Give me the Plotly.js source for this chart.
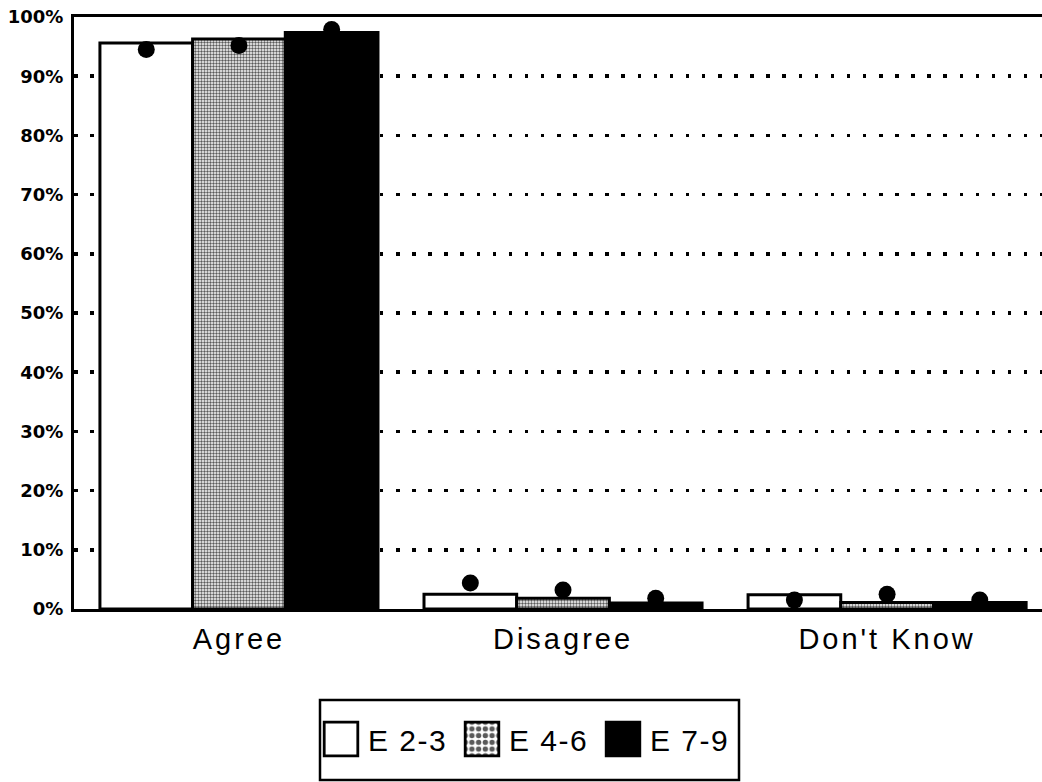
<!DOCTYPE html>
<html>
<head>
<meta charset="utf-8">
<script src="https://cdn.plot.ly/plotly-3.0.1.min.js"></script>
<style>
body{margin:0;background:#fff}
#chart{width:1042px;height:782px}
.xtick text{letter-spacing:3px}
.legend .legendtext{letter-spacing:1.5px}
</style>
</head>
<body>
<div id="chart"></div>
<script>
var categories = ["Agree", "Disagree", "Don't Know"];
var seriesNames = ["E 2-3", "E 4-6", "E 7-9"];
var barE23 = [95.6, 2.5, 2.4];
var barE46 = [96.3, 1.8, 1.1];
var barE79 = [97.4, 1.0, 1.1];
var dotE23 = [94.5, 4.4, 1.5];
var dotE46 = [95.2, 3.2, 2.5];
var dotE79 = [97.9, 1.8, 1.5];
var yTickVals = [0, 10, 20, 30, 40, 50, 60, 70, 80, 90, 100];
var yTickText = ["0%", "10%", "20%", "30%", "40%", "50%", "60%", "70%", "80%", "90%", "100%"];

var barVals = [barE23, barE46, barE79];
var dotVals = [dotE23, dotE46, dotE79];
var fills = [
  {color: "#ffffff"},
  {color: "#ffffff", pattern: {shape: ".", fgcolor: "#5a5a5a", bgcolor: "#ffffff", size: 3, solidity: 0.5}},
  {color: "#000000"}
];

var traces = [];
for (var i = 0; i < 3; i++) {
  traces.push({
    type: "bar", name: seriesNames[i], x: categories, y: barVals[i],
    offsetgroup: "g" + i,
    marker: Object.assign({line: {color: "#000", width: 3}}, fills[i]),
    hoverinfo: "skip"
  });
}
for (var j = 0; j < 3; j++) {
  traces.push({
    type: "scatter", mode: "markers", x: categories, y: dotVals[j],
    offsetgroup: "g" + j, showlegend: false,
    marker: {color: "#000", size: 17, symbol: "circle"},
    hoverinfo: "skip"
  });
}

var plotL = 74, plotT = 17, plotB = 609, figW = 1042;
var plotW = figW - plotL, plotH = plotB - plotT;
function px2x(p) { return (p - plotL) / plotW; }
function py2y(p) { return (plotB - p) / plotH; }

var layout = {
  width: 1042, height: 782,
  margin: {l: plotL, r: 0, t: plotT, b: 782 - plotB},
  paper_bgcolor: "#fff", plot_bgcolor: "#fff",
  barmode: "group", bargap: 0.142, bargroupgap: 0,
  scattermode: "group", scattergap: 0.142,
  font: {family: "Liberation Sans, Arial, sans-serif", color: "#000"},
  showlegend: true,
  xaxis: {
    type: "category", range: [-0.509, 2.478],
    showline: true, linewidth: 3, linecolor: "#000", mirror: true,
    showgrid: false, ticks: "", ticklabelstandoff: 2,
    tickfont: {size: 29, family: "Liberation Sans, Arial, sans-serif"}
  },
  yaxis: {
    range: [0, 100], tickvals: yTickVals, ticktext: yTickText,
    showline: true, linewidth: 3, linecolor: "#000",
    showgrid: true, gridcolor: "#000", gridwidth: 3.5, griddash: "3.5px,12.6px",
    zeroline: false, ticks: "", ticklabelstandoff: 4,
    tickfont: {size: 18, family: "DejaVu Sans, sans-serif", weight: "bold"}
  },
  legend: {
    orientation: "h", x: px2x(529.5), xanchor: "center", y: py2y(739), yanchor: "middle",
    bgcolor: "rgba(0,0,0,0)", borderwidth: 0,
    font: {size: 30, family: "Liberation Sans, Arial, sans-serif"},
    itemwidth: 40,
    entrywidth: 86, entrywidthmode: "pixels", itemclick: false, itemdoubleclick: false
  },
  shapes: [{
    type: "rect", xref: "paper", yref: "paper",
    x0: px2x(320), x1: px2x(739), y0: py2y(780), y1: py2y(700),
    line: {color: "#000", width: 2.5}, fillcolor: "rgba(0,0,0,0)"
  }]
};

Plotly.newPlot("chart", traces, layout, {staticPlot: true, displayModeBar: false}).then(function (gd) {
  var items = gd.querySelectorAll(".legend g.traces");
  items.forEach(function (it) {
    var txt = it.querySelector("text.legendtext");
    var tx = txt ? parseFloat(txt.getAttribute("x")) : 40;
    it.querySelectorAll(".legendpoints path").forEach(function (p) {
      p.setAttribute("transform", "translate(" + (tx - 27) + ",0) scale(2.8)");
      p.style.strokeWidth = "1px";
    });
  });
});
</script>
</body>
</html>
